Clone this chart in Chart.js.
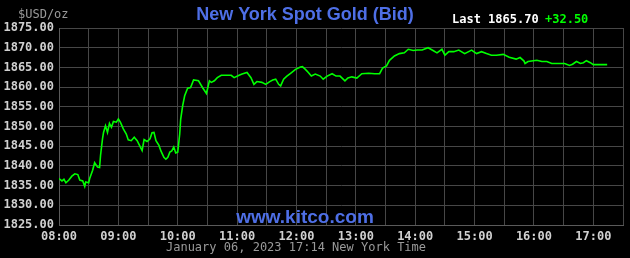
<!DOCTYPE html>
<html>
<head>
<meta charset="utf-8">
<script src="https://cdn.jsdelivr.net/npm/chart.js@4"></script>
<style>
  html, body { margin: 0; padding: 0; background: #000; }
  #wrap { width: 630px; height: 258px; position: relative; }
</style>
</head>
<body>
<div id="wrap"><canvas id="gold"></canvas></div>
<script>
// ==========================================
// Datos
// ==========================================
const sessionStart = 8 * 60;     // 08:00 New York
const sessionEnd = 17 * 60 + 30; // 17:30

// minutos desde las 08:00
const minutes = [
  0, 3, 5, 7, 10, 13, 16, 19, 21, 24, 26, 27, 30, 31, 34, 36, 39, 41, 42, 44,
  45, 47, 49, 51, 53, 55, 58, 60, 62, 65, 68, 70, 73, 76, 79, 82, 84, 86, 89, 92,
  94, 96, 98, 101, 103, 106, 108, 110, 112, 114, 116, 118, 120, 122, 123, 125, 127, 130, 133, 136,
  141, 145, 149, 152, 154, 157, 160, 164, 169, 174, 177, 182, 185, 190, 194, 197, 200, 205, 209, 213,
  216, 219, 222, 224, 227, 230, 235, 239, 244, 246, 249, 252, 255, 259, 264, 267, 271, 276, 280, 284,
  289, 292, 296, 301, 306, 313, 319, 324, 327, 331, 334, 339, 344, 349, 353, 358, 362, 367, 373, 378,
  382, 387, 390, 394, 399, 404, 410, 417, 422, 427, 432, 437, 442, 449, 455, 462, 466, 470, 471, 474,
  483, 488, 493, 498, 503, 511, 516, 519, 523, 527, 530, 533, 537, 540, 547, 554
];

// precio bid (USD/oz)
const bids = [
  1836.8, 1836.2, 1836.6, 1835.7, 1836.4, 1837.4, 1838.0, 1837.8, 1836.4, 1836.2,
  1834.8, 1835.9, 1835.7, 1836.8, 1838.9, 1840.8, 1839.7, 1839.6, 1842.7, 1846.9,
  1848.5, 1850.2, 1848.5, 1850.8, 1849.8, 1851.3, 1851.1, 1851.9, 1851.1, 1849.4,
  1848.1, 1846.6, 1846.4, 1847.3, 1846.4, 1844.9, 1843.9, 1846.7, 1846.2, 1846.9,
  1848.4, 1848.5, 1846.4, 1845.2, 1843.8, 1842.2, 1841.7, 1842.2, 1843.5, 1843.8,
  1844.8, 1843.3, 1843.5, 1848.1, 1851.9, 1855.3, 1857.8, 1859.7, 1859.9, 1861.8,
  1861.6, 1859.9, 1858.4, 1861.6, 1861.2, 1861.6, 1862.4, 1863.0, 1863.0, 1863.0,
  1862.4, 1863.0, 1863.3, 1863.7, 1862.4, 1860.7, 1861.4, 1861.2, 1860.7, 1861.4,
  1861.8, 1862.0, 1860.7, 1860.3, 1862.0, 1862.7, 1863.7, 1864.5, 1865.1, 1865.2,
  1864.5, 1863.7, 1862.8, 1863.3, 1862.8, 1862.0, 1862.8, 1863.4, 1862.8, 1862.8,
  1861.6, 1862.3, 1862.6, 1862.3, 1863.4, 1863.5, 1863.4, 1863.4, 1864.8, 1865.4,
  1866.8, 1867.9, 1868.5, 1868.7, 1869.6, 1869.3, 1869.4, 1869.4, 1870.0, 1869.3,
  1868.7, 1869.6, 1868.1, 1869.0, 1869.0, 1869.4, 1868.5, 1869.4, 1868.5, 1869.0,
  1868.5, 1868.1, 1868.1, 1868.3, 1867.6, 1867.1, 1867.5, 1866.6, 1866.0, 1866.5,
  1866.8, 1866.5, 1866.5, 1866.0, 1866.0, 1866.0, 1865.5, 1865.8, 1866.5, 1866.0,
  1866.2, 1866.7, 1866.2, 1865.7, 1865.7, 1865.7
];

const yTicks = { min: 1825, max: 1875, step: 5 };

const titleText = 'New York Spot Gold (Bid)';
const unitText = '$USD/oz';
const lastText = 'Last 1865.70';
const changeText = '+32.50';
const siteText = 'www.kitco.com';
const footerText = 'January 06, 2023 17:14 New York Time';

// ==========================================
// Estilos
// ==========================================
const MONO = '"DejaVu Sans Mono", "Liberation Mono", monospace';
const SANS = '"Liberation Sans", Arial, sans-serif';
const BLUE = '#4e6fe6';
const GRID = '#474747';

function hhmm(m) {
  const t = sessionStart + m;
  const h = Math.floor(t / 60), mm = t % 60;
  return String(h).padStart(2, '0') + ':' + String(mm).padStart(2, '0');
}

// Textos fuera de los ejes: título, unidad, último precio, marca y pie
const kitcoText = {
  id: 'kitcoText',
  beforeDraw(chart) {
    const c = chart.ctx;
    c.save();
    c.fillStyle = '#000';
    c.fillRect(0, 0, chart.width, chart.height);
    c.restore();
  },
  afterDraw(chart) {
    const c = chart.ctx;
    c.save();
    c.textBaseline = 'middle';

    c.font = '12px ' + MONO;
    c.fillStyle = '#9a9a9a';
    c.textAlign = 'left';
    c.fillText(unitText, 18, 15);

    c.font = 'bold 18px ' + SANS;
    c.fillStyle = BLUE;
    c.textAlign = 'center';
    c.fillText(titleText, 305, 15);

    c.font = 'bold 12px ' + MONO;
    c.textAlign = 'left';
    c.fillStyle = '#ffffff';
    c.fillText(lastText, 452, 20);
    c.fillStyle = '#00ff00';
    c.fillText(changeText, 545, 20);

    c.font = 'bold 19px ' + SANS;
    c.fillStyle = BLUE;
    c.textAlign = 'center';
    c.fillText(siteText, 305, 218);

    c.font = '12px ' + MONO;
    c.fillStyle = '#9a9a9a';
    c.fillText(footerText, 296, 248);
    c.restore();
  }
};

new Chart(document.getElementById('gold'), {
  type: 'line',
  data: {
    datasets: [{
      data: minutes.map((m, i) => ({ x: m, y: bids[i] })),
      borderColor: '#00ff00',
      borderWidth: 1.6,
      pointRadius: 0,
      tension: 0,
      fill: false
    }]
  },
  options: {
    responsive: true,
    maintainAspectRatio: false,
    animation: false,
    layout: { padding: { left: 0, top: 28, right: 7, bottom: 0 } },
    plugins: { legend: { display: false }, tooltip: { enabled: false }, title: { display: false } },
    scales: {
      x: {
        type: 'linear',
        min: 0,
        max: sessionEnd - sessionStart,
        afterFit(s) { s.height = 33; },
        grid: { color: GRID, lineWidth: 1, drawTicks: false },
        border: { color: '#5a5a5a', width: 1 },
        ticks: {
          stepSize: 30,
          autoSkip: false,
          maxRotation: 0,
          padding: 5,
          color: '#d0d0d0',
          font: { family: MONO, size: 12, weight: 'bold' },
          callback: v => (v % 60 === 0 ? hhmm(v) : '')
        }
      },
      y: {
        min: yTicks.min,
        max: yTicks.max,
        afterFit(s) { s.width = 59; },
        grid: { color: GRID, lineWidth: 1, drawTicks: false },
        border: { color: '#5a5a5a', width: 1 },
        ticks: {
          stepSize: yTicks.step,
          padding: 5,
          color: '#d0d0d0',
          font: { family: MONO, size: 12, weight: 'bold' },
          callback: v => v.toFixed(2)
        }
      }
    }
  },
  plugins: [kitcoText]
});
</script>
</body>
</html>
